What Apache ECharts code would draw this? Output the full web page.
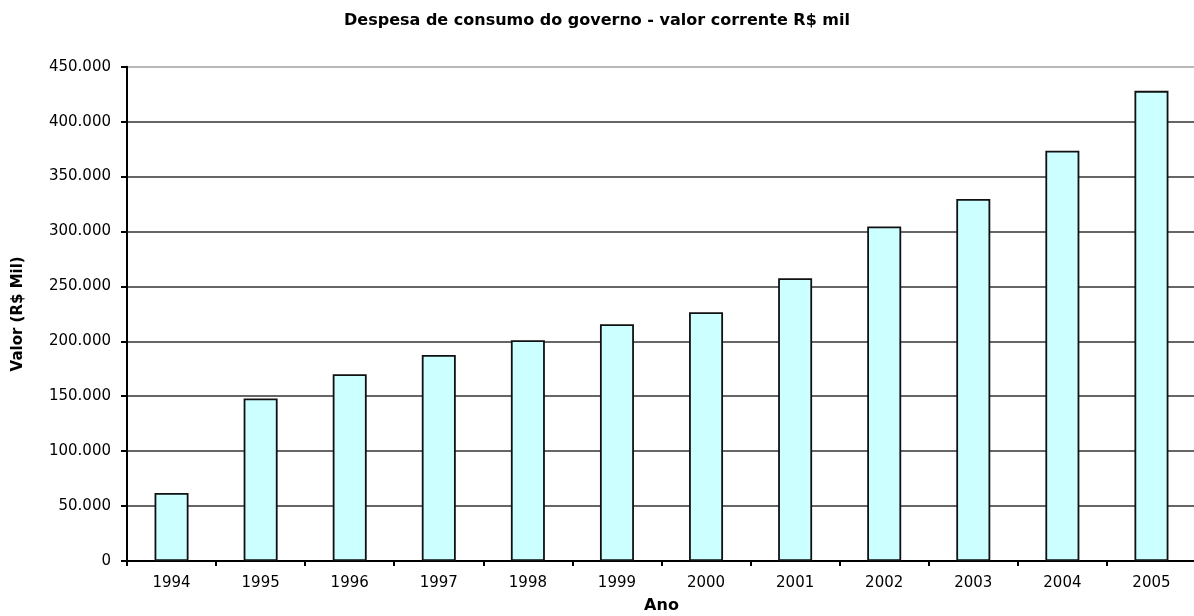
<!DOCTYPE html>
<html>
<head>
<meta charset="utf-8">
<script src="https://cdn.jsdelivr.net/npm/echarts@6/dist/echarts.min.js"></script>
<style>
  html, body { margin: 0; padding: 0; background: #ffffff; }
  #chart { width: 1194px; height: 616px; }
</style>
</head>
<body>
<div id="chart"></div>
<script>
// Despesa de consumo do governo, 1994-2005 (R$ mil)
const anos = ['1994', '1995', '1996', '1997', '1998', '1999', '2000', '2001', '2002', '2003', '2004', '2005'];
const valores = [62000, 148000, 170000, 187500, 201000, 215500, 226500, 257500, 304500, 329500, 373500, 428000];
const titulo = 'Despesa de consumo do governo - valor corrente R$ mil';
const nomeEixoX = 'Ano';
const nomeEixoY = 'Valor (R$ Mil)';

const fonte = '"DejaVu Sans", Verdana, sans-serif';

// Thousands separated by dots, as in pt-BR
function milhar(v) {
  return String(v).replace(/\B(?=(\d{3})+(?!\d))/g, '.');
}

// Dark grid lines, the topmost one lighter (plot frame)
const gridColors = ['#333', '#333', '#333', '#333', '#333', '#333', '#333', '#333', '#333', '#a0a0a0'];

const chart = echarts.init(document.getElementById('chart'), null, { renderer: 'canvas' });
chart.setOption({
  backgroundColor: '#ffffff',
  animation: false,
  title: {
    text: titulo,
    left: 'center',
    top: 8,
    textStyle: { fontFamily: fonte, fontSize: 16, fontWeight: 'bold', color: '#000' }
  },
  grid: {
    left: 127,
    top: 66.7,
    bottom: 55,
    right: -2,
    outerBoundsMode: 'none'
  },
  xAxis: {
    type: 'category',
    data: anos,
    name: nomeEixoX,
    nameLocation: 'middle',
    nameGap: 37,
    nameTextStyle: { fontFamily: fonte, fontSize: 16, fontWeight: 'bold', color: '#000' },
    axisLine: { lineStyle: { color: '#000', width: 2 } },
    axisTick: { show: true, length: 5, lineStyle: { color: '#000', width: 2 } },
    axisLabel: { fontFamily: fonte, fontSize: 15, color: '#000', margin: 15 }
  },
  yAxis: {
    type: 'value',
    min: 0,
    max: 450000,
    interval: 50000,
    name: nomeEixoY,
    nameLocation: 'middle',
    nameGap: 101,
    nameTextStyle: { fontFamily: fonte, fontSize: 15, fontWeight: 'bold', color: '#000' },
    axisLine: { show: true, lineStyle: { color: '#000', width: 2 } },
    axisTick: { show: true, length: 6, lineStyle: { color: '#000', width: 2 } },
    axisLabel: { fontFamily: fonte, fontSize: 15, color: '#000', margin: 16, formatter: milhar },
    splitLine: { show: true, lineStyle: { color: gridColors, width: 1.5 } }
  },
  series: [{
    type: 'bar',
    data: valores,
    barWidth: 34,
    itemStyle: { color: '#ccffff', borderColor: '#111', borderWidth: 1.8 }
  }]
});
</script>
</body>
</html>
